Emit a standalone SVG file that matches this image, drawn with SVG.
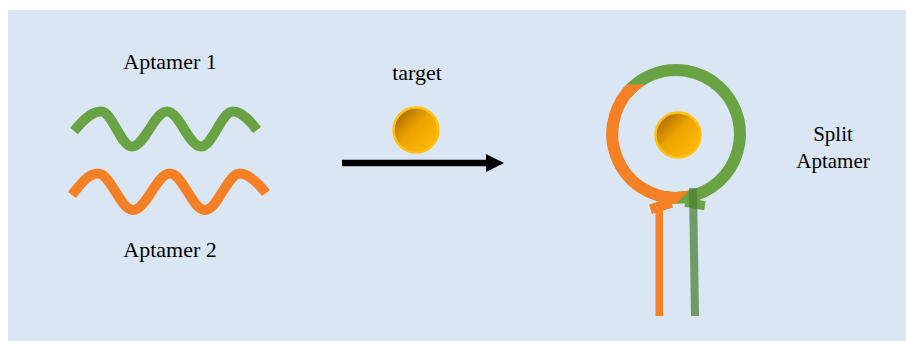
<svg xmlns="http://www.w3.org/2000/svg" width="906" height="341" viewBox="0 0 906 341">
  <style>
    .label { font-family: "Liberation Serif", "Times New Roman", serif; font-size: 22px; fill: #000; text-anchor: middle; }
    .wave { fill: none; stroke-width: 10; stroke-linecap: butt; stroke-linejoin: round; }
    .green { stroke: #6AA343; }
    .orange { stroke: #F58025; }
    .ring { fill: none; stroke-width: 12; }
    .bead { fill: url(#beadFill); stroke: #FFC20E; stroke-width: 2.5; }
  </style>
  <defs>
    <linearGradient id="beadFill" x1="0.1" y1="0.1" x2="0.9" y2="0.9">
      <stop offset="0" stop-color="#A86A00"/>
      <stop offset="0.45" stop-color="#EEA300"/>
      <stop offset="1" stop-color="#FFBA00"/>
    </linearGradient>
    <!-- keeps the orange half of the loop below its top-left seam and left of its bottom seam -->
    <clipPath id="orangeHalf">
      <polygon points="0,84.5 795.5,84.5 538.5,341 0,341"/>
    </clipPath>
  </defs>

  <!-- panel -->
  <rect x="8" y="10" width="898" height="331" fill="#DAE6F4"/>

  <g id="aptamer1">
    <text class="label" x="170" y="69">Aptamer 1</text>
    <path class="wave green" d="M74,131 C84,119 92,111.5 101,111.5 C112.3,111.5 120.7,146.5 132,146.5 C144.7,146.5 154.3,111.5 167,111.5 C179.4,111.5 188.6,146.5 201,146.5 C212.7,146.5 221.3,111.5 233,111.5 C242,111.5 250,121 257,130"/>
  </g>

  <g id="aptamer2">
    <path class="wave orange" d="M72,195 C82,182 89,173.5 98,173.5 C110.7,173.5 120.3,210 133,210 C146.5,210 156.5,173.5 170,173.5 C182.7,173.5 192.3,210 205,210 C217.7,210 227.3,173.5 240,173.5 C249,173.5 258,183 266,193"/>
    <text class="label" x="170" y="257">Aptamer 2</text>
  </g>

  <g id="target">
    <text class="label" x="417" y="80">target</text>
    <circle class="bead" cx="416" cy="130" r="22.5"/>
  </g>

  <g id="connectors">
    <line x1="342" y1="163" x2="488" y2="163" stroke="#000" stroke-width="6.5"/>
    <polygon points="486,154 504,163 486,172" fill="#000"/>
  </g>

  <g id="split-aptamer">
    <!-- green strand: loop plus stem -->
    <path class="ring green" d="M626.97,92.86 A64,64 0 1 1 664.89,197.03"/>
    <!-- orange strand: loop plus stem -->
    <path class="ring orange" clip-path="url(#orangeHalf)" d="M644,78.6 A64,64 0 0 0 697.9,194.1"/>
    <rect x="-11" y="-5" width="22" height="10" fill="#F58025" transform="translate(661,206) rotate(-17)"/>
    <rect x="655.5" y="205" width="7.5" height="111" fill="#F58025"/>
    <rect x="-10" y="-4.5" width="20" height="9" fill="#6AA343" transform="translate(695,204) rotate(10)"/>
    <line x1="693" y1="188" x2="695" y2="316" stroke="#4E8038" stroke-opacity="0.75" stroke-width="8"/>
    <circle class="bead" cx="678" cy="135" r="22.5"/>
    <text class="label" style="font-size:21px" x="833" y="141">Split</text>
    <text class="label" style="font-size:21px" x="833" y="168">Aptamer</text>
  </g>
</svg>
